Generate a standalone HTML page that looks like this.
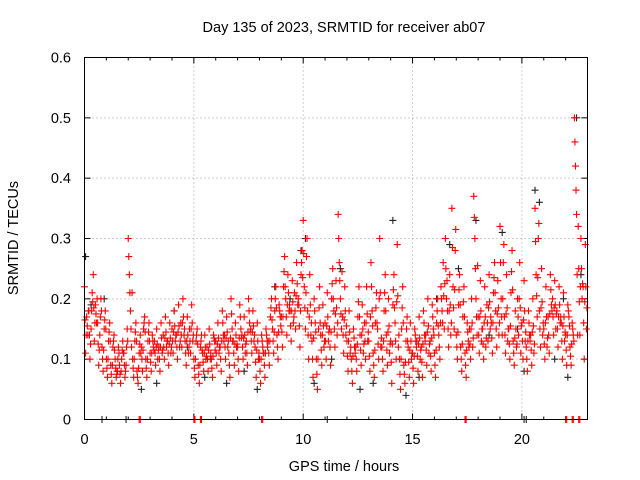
<!DOCTYPE html>
<html><head><meta charset="utf-8"><style>
body{margin:0;background:#fff}
svg{display:block;font-family:"Liberation Sans",sans-serif;font-size:14.5px}
</style></head><body>
<svg id="chart" width="640" height="480" viewBox="0 0 640 480">
<rect width="640" height="480" fill="#fff"/>
<text x="344" y="32" text-anchor="middle">Day 135 of 2023, SRMTID for receiver ab07</text>
<text transform="translate(18,238) rotate(-90)" text-anchor="middle">SRMTID / TECUs</text>
<text x="344" y="471" text-anchor="middle">GPS time / hours</text>
<g id="grid"></g><g id="ticks"></g><g id="black"></g><g id="red"></g>
<rect x="84.5" y="57.5" width="503" height="362" fill="none" stroke="#000"/>
</svg>
<script>
const xTicks=[0,5,10,15,20];
const yTicks=[0,0.1,0.2,0.3,0.4,0.5,0.6];
const redHours=[];for(let i=0;i<115;i++)redHours.push(+(i*0.2).toFixed(1));
const redVals=[[.22,.11,.17,.14],[.18,.1,.15,.21],[.24,.13,.19,.16],[.16,.09,.14,.2],[.12,.08,.15,.18],[.1,.07,.13,.16],[.09,.06,.12,.14],[.1,.07,.08,.12],[.09,.06,.1,.13],[.11,.07,.09,.15],[.3,.24,.18,.12],[.1,.07,.13,.16],[.08,.06,.11,.14],[.12,.08,.15,.17],[.1,.07,.13,.16],[.11,.08,.14,.12],[.13,.09,.15,.1],[.12,.08,.16,.11],[.14,.1,.17,.12],[.13,.09,.16,.11],[.15,.11,.18,.13],[.14,.1,.19,.12],[.16,.12,.2,.14],[.13,.09,.17,.11],[.15,.11,.19,.13],[.1,.07,.13,.15],[.09,.06,.12,.14],[.11,.08,.14,.1],[.12,.08,.15,.1],[.1,.07,.14,.13],[.13,.09,.16,.11],[.12,.08,.18,.14],[.14,.1,.17,.12],[.11,.07,.2,.15],[.13,.09,.16,.12],[.12,.08,.19,.15],[.14,.1,.17,.11],[.13,.09,.2,.16],[.15,.11,.18,.13],[.12,.07,.16,.1],[.1,.06,.14,.12],[.11,.07,.15,.13],[.13,.09,.17,.2],[.15,.11,.18,.22],[.14,.1,.19,.17],[.17,.12,.22,.27],[.2,.14,.24,.18],[.18,.13,.23,.16],[.21,.15,.26,.19],[.19,.12,.24,.28],[.33,.22,.15,.27],[.18,.1,.24,.14],[.13,.07,.2,.16],[.1,.05,.15,.22],[.14,.09,.19,.12],[.16,.1,.21,.13],[.15,.09,.2,.25],[.18,.12,.23,.14],[.34,.26,.2,.15],[.17,.11,.22,.14],[.13,.08,.18,.11],[.1,.06,.15,.12],[.12,.08,.17,.22],[.14,.09,.19,.11],[.16,.1,.22,.13],[.13,.08,.26,.18],[.11,.07,.16,.21],[.15,.1,.3,.12],[.12,.08,.18,.24],[.14,.09,.2,.11],[.13,.06,.19,.24],[.16,.1,.29,.12],[.1,.05,.15,.22],[.09,.06,.13,.17],[.12,.07,.16,.1],[.11,.06,.15,.13],[.13,.08,.17,.1],[.12,.07,.18,.14],[.14,.09,.2,.11],[.13,.08,.19,.15],[.11,.07,.16,.2],[.14,.1,.22,.18],[.26,.15,.3,.2],[.18,.12,.24,.14],[.35,.22,.15,.28],[.14,.1,.19,.24],[.12,.08,.17,.22],[.11,.07,.16,.13],[.15,.1,.2,.12],[.37,.3,.2,.14],[.17,.11,.23,.13],[.15,.1,.22,.12],[.19,.13,.24,.15],[.16,.11,.21,.26],[.18,.12,.23,.14],[.32,.2,.14,.26],[.17,.11,.24,.13],[.15,.1,.21,.28],[.13,.09,.18,.12],[.2,.14,.26,.11],[.16,.1,.23,.13],[.12,.08,.18,.14],[.14,.09,.2,.11],[.35,.24,.17,.3],[.18,.12,.25,.14],[.15,.1,.22,.12],[.17,.11,.24,.19],[.2,.14,.23,.15],[.18,.12,.22,.16],[.16,.1,.21,.13],[.14,.09,.19,.17],[.12,.09,.16,.14],[.5,.42,.34,.14],[.25,.14,.3,.2],[.22,.1,.29,.15]];
const redZeroHours=[2.5,5,5.3,8.1,17.4,22,22.3,22.6];
const blackHours=[0.05,0.3,0.9,1.5,2.6,3.3,4.1,4.7,5.5,6.5,7.3,7.9,8.7,9.4,9.9,10.1,10.5,11.3,11.7,12.6,13.2,14.1,14.7,15.3,16.1,16.7,17.1,17.9,18.5,19.1,19.8,20.1,20.6,20.8,21.5,21.9,22.1,22.5,22.7];
const blackVals=[0.27,0.19,0.2,0.08,0.05,0.06,0.18,0.12,0.07,0.06,0.08,0.05,0.22,0.2,0.28,0.3,0.06,0.1,0.25,0.05,0.06,0.33,0.04,0.07,0.2,0.29,0.25,0.33,0.14,0.31,0.15,0.08,0.38,0.36,0.1,0.2,0.07,0.5,0.24];
const blackZeroHours=[0.8,1.9,11.1,20.1,20.2];
const NS='http://www.w3.org/2000/svg';
const X0=84.5,X1=587.5,Y0=419.5,Y1=57.5;
function sx(h){return X0+h/23*(X1-X0);}
function sy(v){return Y0-v/0.6*(Y0-Y1);}
function mk(tag,attrs,parent){const e=document.createElementNS(NS,tag);for(const k in attrs)e.setAttribute(k,attrs[k]);parent.appendChild(e);return e;}
const grid=document.getElementById('grid'),ticks=document.getElementById('ticks');
xTicks.forEach(t=>{const x=sx(t);
 if(t>0){const g=mk('line',{x1:x,x2:x,y1:Y0,y2:Y1,stroke:'#a0a0a0','stroke-dasharray':'1,3'},grid);
 
 }
 const lb=mk('text',{x:x,y:444,'text-anchor':'middle'},ticks);lb.textContent=t;
 
 
 mk('line',{x1:x,x2:x,y1:Y0,y2:Y0-6,stroke:'#000'},ticks);mk('line',{x1:x,x2:x,y1:Y1,y2:Y1+6,stroke:'#000'},ticks);});
for(let h=1;h<23;h++){if(h%5){const x=sx(h);mk('line',{x1:x,x2:x,y1:Y0,y2:Y0-3,stroke:'#000'},ticks);mk('line',{x1:x,x2:x,y1:Y1,y2:Y1+3,stroke:'#000'},ticks);}}
yTicks.forEach(v=>{const y=sy(v);
 if(v>0&&v<0.6){const g=mk('line',{x1:X0,x2:X1,y1:y,y2:y,stroke:'#a0a0a0','stroke-dasharray':'1,3'},grid);
 
 }
 const lb=mk('text',{x:71,y:y+5,'text-anchor':'end'},ticks);lb.textContent=v===0?'0':v.toFixed(1);
 
 
 mk('line',{x1:X0,x2:X0+6,y1:y,y2:y,stroke:'#000'},ticks);mk('line',{x1:X1,x2:X1-6,y1:y,y2:y,stroke:'#000'},ticks);});
function plus(g,h,v,c,name){const x=sx(h),y=sy(v);
 const p=mk('path',{d:`M${x-3.5},${y}h7M${x},${y-3.5}v7`,stroke:c,'stroke-width':1.1,fill:'none'},g);
 
 }
const bg=document.getElementById('black'),rg=document.getElementById('red');
blackHours.forEach((h,i)=>plus(bg,h,blackVals[i],'#222','black-point'));
blackZeroHours.forEach(h=>plus(bg,h,0,'#222','black-zero-point'));
redHours.forEach((h,i)=>redVals[i].forEach((v,k)=>{plus(rg,h+k*0.05,v,'#ff0000','red-point');plus(rg,h+k*0.05+0.025,(v+redVals[i][(k+1)%4])/2,'#ff0000','red-point');}));
redZeroHours.forEach(h=>{plus(rg,h,0,'#ff0000','red-zero-point');plus(rg,h+0.05,0,'#ff0000','red-zero-point');});
</script>
</body></html>
